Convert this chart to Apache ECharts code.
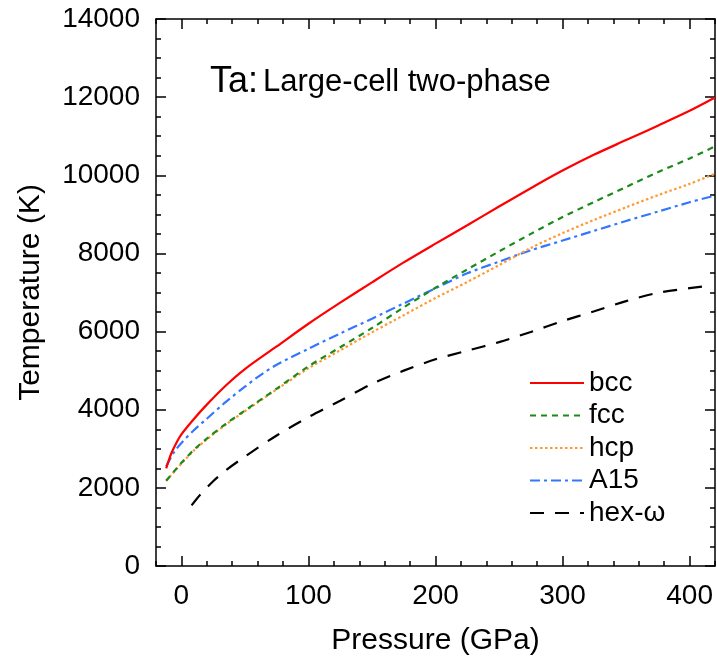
<!DOCTYPE html>
<html>
<head>
<meta charset="utf-8">
<script src="https://cdn.jsdelivr.net/npm/echarts@6/dist/echarts.min.js"></script>
<style>
html,body{margin:0;padding:0;background:#fff;}
#chart{width:717px;height:666px;}
</style>
</head>
<body>
<div id="chart"></div>
<script>
// ---- data (Pressure in GPa, Temperature in K) ----
const seriesNames = ['bcc', 'fcc', 'hcp', 'A15', 'hex-\u03c9'];

const bccP = [-12, -8, -4, 0, 10, 20, 35, 50, 75, 100, 125, 150, 175, 200, 225, 250, 275, 300, 325, 350, 375, 400, 420];
const bccT = [2500, 2880, 3150, 3370, 3770, 4130, 4620, 5040, 5620, 6200, 6740, 7260, 7770, 8250, 8720, 9200, 9670, 10120, 10530, 10900, 11270, 11650, 11990];

const fccP = [-12, -5, 0, 10, 20, 35, 50, 75, 100, 125, 150, 175, 200, 225, 250, 275, 300, 325, 350, 375, 400, 420];
const fccT = [2180, 2450, 2640, 2980, 3260, 3640, 3980, 4540, 5110, 5600, 6090, 6620, 7120, 7590, 8050, 8500, 8930, 9320, 9700, 10080, 10430, 10740];

const hcpP = [-12, -5, 0, 10, 20, 35, 50, 75, 100, 125, 150, 175, 200, 225, 250, 275, 300, 325, 350, 375, 400, 420];
const hcpT = [2180, 2440, 2620, 2960, 3240, 3620, 3960, 4520, 5060, 5520, 5980, 6420, 6860, 7270, 7700, 8140, 8520, 8860, 9180, 9490, 9780, 10040];

const a15P = [-12, -6, 0, 10, 20, 35, 50, 62, 75, 100, 125, 150, 175, 200, 225, 250, 275, 300, 325, 350, 375, 400, 420];
const a15T = [2550, 2900, 3150, 3480, 3770, 4200, 4590, 4880, 5150, 5560, 5950, 6330, 6720, 7110, 7490, 7790, 8080, 8330, 8580, 8830, 9070, 9310, 9480];

const hexP = [8, 15, 25, 35, 50, 75, 100, 125, 150, 175, 200, 225, 250, 275, 300, 325, 350, 375, 400, 415];
const hexT = [1550, 1830, 2170, 2450, 2800, 3340, 3810, 4230, 4660, 5000, 5290, 5510, 5730, 5990, 6270, 6520, 6780, 6990, 7110, 7170];

const xMajorTicks = [0, 100, 200, 300, 400];
const xMin = -20, xMax = 420, xMinorStep = 20;
const yMin = 0, yMax = 14000, yStep = 2000;

const colors = ['#ff0000', '#1a8a1a', '#ff9933', '#3377ff', '#000000'];
const dashes = ['solid', [6, 5], [2.5, 2.5], [10, 4, 3, 4], [14, 11]];

function pairs(p, t) { return p.map((v, i) => [v, t[i]]); }
const allData = [pairs(bccP, bccT), pairs(fccP, fccT), pairs(hcpP, hcpT), pairs(a15P, a15T), pairs(hexP, hexT)];

const FONT = "'Liberation Sans', Arial, Helvetica, sans-serif";
const axisLineStyle = { color: '#000', width: 1.5 };

const chart = echarts.init(document.getElementById('chart'), null, { renderer: 'canvas' });

function xAx(pos, major, showLabels) {
  return {
    type: 'value', position: pos, min: xMin, max: xMax, interval: xMinorStep,
    axisLine: { show: !major, onZero: false, lineStyle: axisLineStyle },
    axisTick: major
      ? { show: true, inside: true, length: 10, customValues: xMajorTicks, lineStyle: { color: '#000', width: 1.5 } }
      : { show: true, inside: true, length: 5, lineStyle: { color: '#000', width: 1.5 } },
    axisLabel: showLabels
      ? { show: true, customValues: xMajorTicks, fontFamily: FONT, fontSize: 28, color: '#000', margin: 16,
          formatter: v => String(v) }
      : { show: false },
    splitLine: { show: false },
    name: showLabels ? 'Pressure (GPa)' : '',
    nameLocation: 'middle', nameGap: 60,
    nameTextStyle: { fontFamily: FONT, fontSize: 30, color: '#000' }
  };
}

function yAx(pos, showLabels) {
  return {
    type: 'value', position: pos, min: yMin, max: yMax, interval: yStep,
    axisLine: { show: true, onZero: false, lineStyle: axisLineStyle },
    axisTick: { show: true, inside: true, length: 10, lineStyle: { color: '#000', width: 1.5 } },
    minorTick: { show: true, splitNumber: 4, length: 5, lineStyle: { color: '#000', width: 1.5 } },
    axisLabel: showLabels
      ? { show: true, fontFamily: FONT, fontSize: 28, color: '#000', margin: 16, formatter: v => String(v) }
      : { show: false },
    splitLine: { show: false }, minorSplitLine: { show: false },
    name: showLabels ? 'Temperature (K)' : '',
    nameLocation: 'middle', nameGap: 110,
    nameTextStyle: { fontFamily: FONT, fontSize: 30, color: '#000' }
  };
}

const option = {
  backgroundColor: '#fff',
  animation: false,
  grid: { left: 156, right: 2, top: 19, bottom: 100, containLabel: false },
  title: {
    text: '{a|Ta:} {b|Large-cell two-phase}',
    left: 205, top: 59,
    textStyle: {
      fontWeight: 'normal',
      rich: {
        a: { fontFamily: FONT, fontSize: 36, fontWeight: 'normal', color: '#000' },
        b: { fontFamily: FONT, fontSize: 31, fontWeight: 'normal', color: '#000' }
      }
    }
  },
  legend: {
    orient: 'vertical', left: 524, top: 364,
    itemWidth: 54, itemHeight: 14, itemGap: 4.5,
    itemStyle: { opacity: 0 },
    textStyle: { fontFamily: FONT, fontSize: 28, color: '#000', lineHeight: 28 },
    data: seriesNames
  },
  xAxis: [xAx('bottom', false, true), xAx('bottom', true, false), xAx('top', false, false), xAx('top', true, false)],
  yAxis: [yAx('left', true), yAx('right', false)],
  series: seriesNames.map((n, i) => ({
    name: n, type: 'line', xAxisIndex: 0, yAxisIndex: 0,
    data: allData[i], symbol: 'none', smooth: 0.3,
    lineStyle: { color: colors[i], width: 2.2, type: dashes[i] },
    itemStyle: { color: colors[i] },
    z: 5 - i
  }))
};
chart.setOption(option);
</script>
</body>
</html>
